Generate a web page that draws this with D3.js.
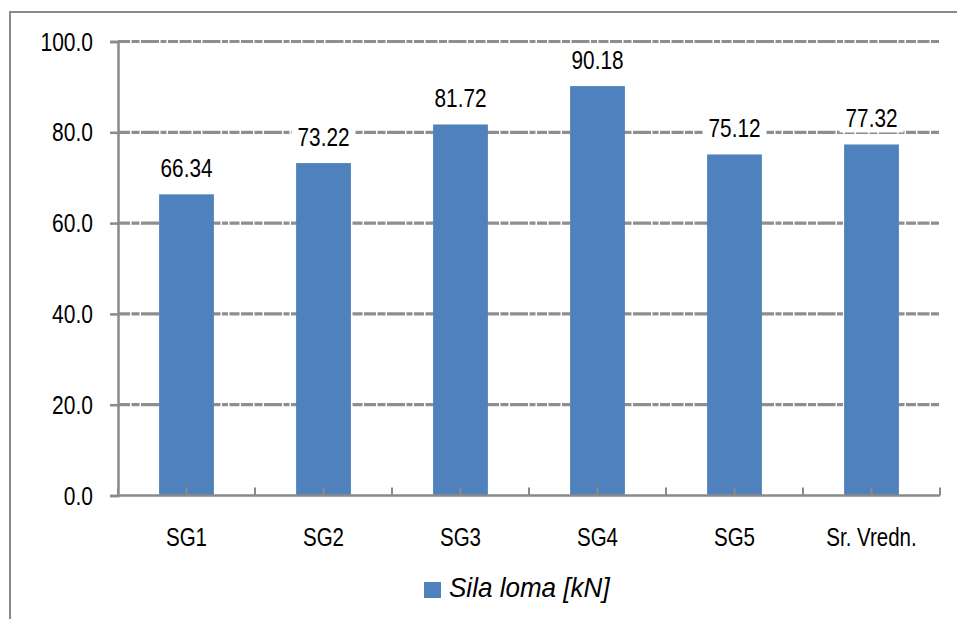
<!DOCTYPE html>
<html><head><meta charset="utf-8">
<script src="https://cdn.jsdelivr.net/npm/d3@7"></script>
<style>
body{margin:0;background:#fff;}
text{font-family:"Liberation Sans",Arial,sans-serif;fill:#000;}
</style></head>
<body><svg id="c" width="957" height="619"></svg>
<script>
const categories = ["SG1","SG2","SG3","SG4","SG5","Sr. Vredn."];
const values = [66.34, 73.22, 81.72, 90.18, 75.12, 77.32];
const yTicks = [0, 20, 40, 60, 80, 100];
const seriesName = "Sila loma [kN]";

(function(){
const svg = d3.select("#c");
const W = 957, H = 619;
const narrow = (sel, f) => sel.each(function(){
  const L = this.getComputedTextLength();
  d3.select(this).attr("textLength", L*f).attr("lengthAdjust","spacingAndGlyphs");
});
svg.append("rect").attr("width",W).attr("height",H).attr("fill","#fff");
// outer frame
svg.append("path").attr("d","M10,619 V12 H957").attr("fill","none").attr("stroke","#8a8a8a").attr("stroke-width",2);

const pL = 118, pR = 940, pT = 41.5, pB = 495.5;
const x = d3.scaleBand().domain(categories).range([pL,pR]).paddingInner(0.6).paddingOuter(0.3);
const y = d3.scaleLinear().domain([0,100]).range([pB,pT]);

// gridlines
const grid = svg.append("g");
yTicks.filter(t=>t>0).forEach(t=>{
  grid.append("line").attr("x1",pL).attr("x2",pR).attr("y1",y(t)).attr("y2",y(t))
    .attr("stroke","#8f8f8f").attr("stroke-width",3.2).attr("stroke-dasharray","12,1.5,8,1.5,18,1.5,6,1.5,10,1.5");
});

// bars
svg.append("g").selectAll("rect").data(values).join("rect")
  .attr("x",(d,i)=>x(categories[i]))
  .attr("width",x.bandwidth())
  .attr("y",d=>y(d))
  .attr("height",d=>pB-y(d))
  .attr("fill","#4f81bd");

// y axis
const yAxis = svg.append("g").attr("transform",`translate(${pL},0)`)
  .call(d3.axisLeft(y).tickValues(yTicks).tickFormat(d3.format(".1f")).tickSize(8).tickPadding(17));
yAxis.attr("font-family",null).attr("font-size",null);
yAxis.select(".domain").attr("stroke","#8a8a8a").attr("stroke-width",2.5);
yAxis.selectAll(".tick line").attr("stroke","#8a8a8a").attr("stroke-width",2.5);
yAxis.selectAll(".tick text").attr("font-size",25).attr("fill","#000").attr("dy","0.34em");
narrow(yAxis.selectAll(".tick text"), 0.84);

// x axis baseline & ticks
const xAxis = svg.append("g").attr("transform",`translate(0,${pB})`);
xAxis.append("line").attr("x1",pL).attr("x2",pR).attr("stroke","#8a8a8a").attr("stroke-width",2.5);
const tickXs = [];
for(let i=0;i<=categories.length;i++) tickXs.push(pL + i*(pR-pL)/categories.length);
categories.forEach(c=>tickXs.push(x(c)+x.bandwidth()/2));
xAxis.selectAll("line.t").data(tickXs).join("line").attr("class","t")
  .attr("x1",d=>d).attr("x2",d=>d).attr("y1",0).attr("y2",-8)
  .attr("stroke","#8a8a8a").attr("stroke-width",2);
const xl = xAxis.selectAll("text").data(categories).join("text")
  .attr("x",d=>x(d)+x.bandwidth()/2).attr("y",50)
  .attr("text-anchor","middle").attr("font-size",25).text(d=>d);
narrow(xl, 0.82);

// data labels with white background
const lab = svg.append("g").selectAll("g").data(values).join("g")
  .attr("transform",(d,i)=>`translate(${x(categories[i])+x.bandwidth()/2},${y(d)-17})`);
const lt = lab.append("text").attr("text-anchor","middle").attr("font-size",25).text(d=>d.toFixed(2));
narrow(lt, 0.83);
lab.each(function(){
  const g = d3.select(this);
  const bb = g.select("text").node().getBBox();
  g.insert("rect","text").attr("x",bb.x-6).attr("y",bb.y).attr("width",bb.width+12).attr("height",bb.height)
    .attr("fill","#fff");
});

// legend
svg.append("rect").attr("x",424).attr("y",582).attr("width",17).attr("height",16).attr("fill","#4f81bd");
const lg = svg.append("text").attr("x",449).attr("y",597).attr("font-size",28).attr("font-style","italic").text(seriesName);
narrow(lg, 0.93);
})();
</script></body></html>
